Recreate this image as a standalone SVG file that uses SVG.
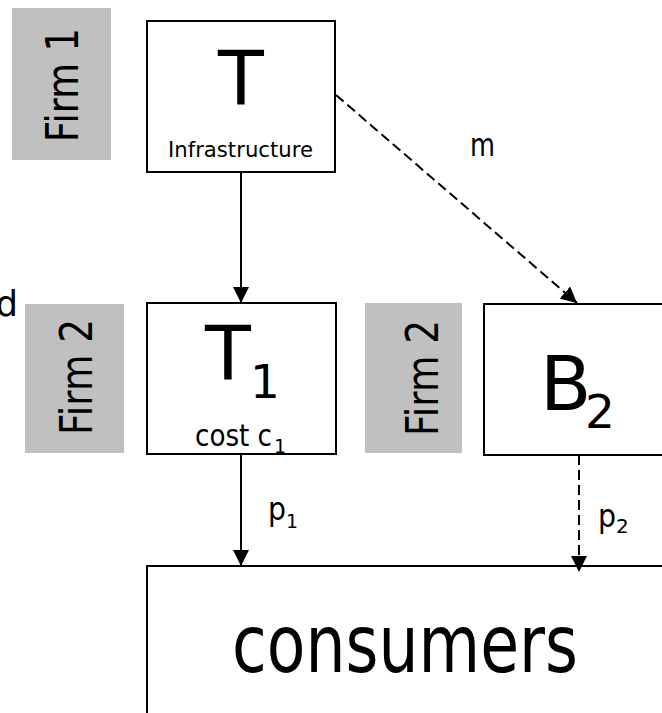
<svg xmlns="http://www.w3.org/2000/svg" width="662" height="713" viewBox="0 0 662 713">
<style>
text{font-family:"DejaVu Sans","Liberation Sans",sans-serif;fill:#000}
.firm{fill:#c0c0c0}
.box{fill:#fff;stroke:#000;stroke-width:2}
.ln{stroke:#000;stroke-width:2;fill:none}
.dash{stroke-dasharray:10 5}
</style>
<defs>
<marker id="ah2" viewBox="0 0 16 16" refX="16" refY="8" markerWidth="16" markerHeight="16" orient="auto" markerUnits="userSpaceOnUse">
<path d="M0,0 L16,8 L0,16 Z" fill="#000"/>
</marker>
</defs>
<text x="18" y="316" font-size="35" text-anchor="end">d</text>
<g id="firm1"><rect class="firm" x="12" y="8" width="99" height="152"/><text transform="translate(78,85) rotate(-90)" font-size="45" text-anchor="middle" textLength="114" lengthAdjust="spacingAndGlyphs">Firm 1</text></g>
<g id="firm2a"><rect class="firm" x="25" y="304" width="99" height="149"/><text transform="translate(92,377) rotate(-90)" font-size="45" text-anchor="middle" textLength="116" lengthAdjust="spacingAndGlyphs">Firm 2</text></g>
<g id="firm2b"><rect class="firm" x="365" y="303" width="97" height="150"/><text transform="translate(438,378) rotate(-90)" font-size="45" text-anchor="middle" textLength="116" lengthAdjust="spacingAndGlyphs">Firm 2</text></g>
<g id="T"><rect class="box" x="147" y="21" width="188" height="151"/><text x="241" y="104" font-size="75" text-anchor="middle">T</text><text x="240.5" y="157" font-size="21" text-anchor="middle" textLength="145" lengthAdjust="spacingAndGlyphs">Infrastructure</text></g>
<g id="T1"><rect class="box" x="147" y="303" width="189" height="151"/><text x="205" y="379" font-size="75">T</text><text x="250" y="398" font-size="47">1</text><text x="195" y="446" font-size="30" textLength="77" lengthAdjust="spacingAndGlyphs">cost c</text><text x="274" y="453" font-size="19">1</text></g>
<g id="B2"><rect class="box" x="484" y="304" width="200" height="151"/><text x="540" y="410" font-size="75">B</text><text x="585" y="428" font-size="47">2</text></g>
<g id="consumers"><rect class="box" x="147" y="566" width="540" height="160"/><text x="232" y="672" font-size="80" textLength="346" lengthAdjust="spacingAndGlyphs">consumers</text></g>
<g id="connectors">
<line class="ln" x1="241" y1="172" x2="241" y2="303" marker-end="url(#ah2)"/>
<line class="ln dash" x1="336" y1="95" x2="577" y2="303" marker-end="url(#ah2)"/>
<line class="ln" x1="241" y1="454" x2="241" y2="566" marker-end="url(#ah2)"/>
<line class="ln dash" x1="579" y1="455" x2="579" y2="572" marker-end="url(#ah2)"/>
<text x="470" y="156" font-size="32" textLength="25" lengthAdjust="spacingAndGlyphs">m</text>
<text x="268" y="520" font-size="32" textLength="18" lengthAdjust="spacingAndGlyphs">p</text><text x="286" y="528" font-size="19">1</text>
<text x="598" y="527" font-size="32" textLength="18" lengthAdjust="spacingAndGlyphs">p</text><text x="616" y="533" font-size="20">2</text>
</g>
</svg>
